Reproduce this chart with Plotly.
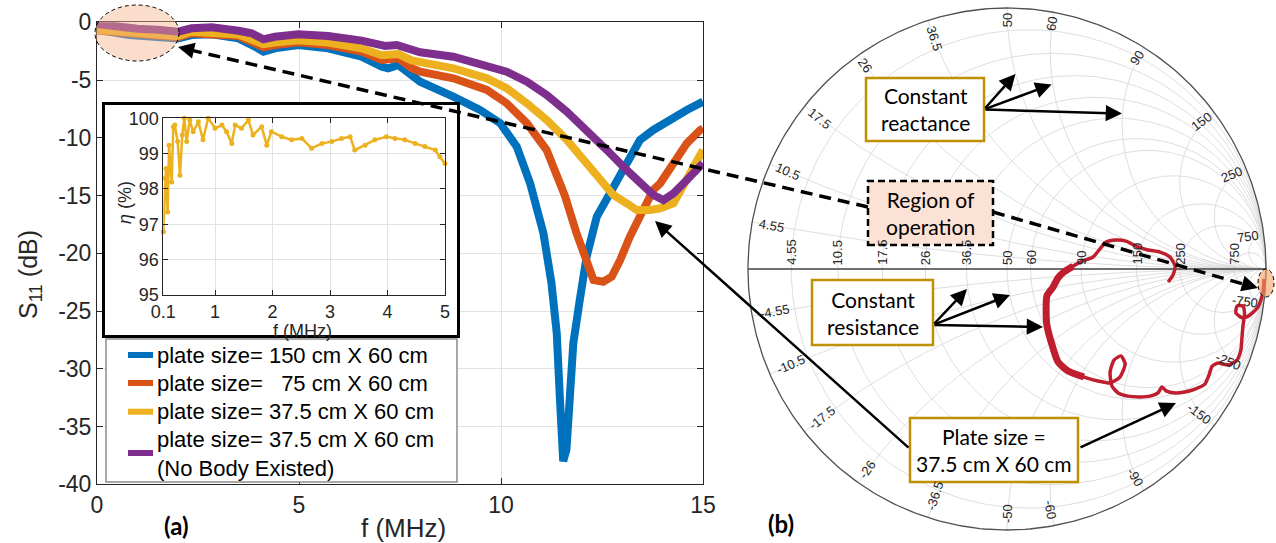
import numpy as np
import plotly.graph_objects as go

W, H = 1276, 543

# ---------------- S11 sweeps (f in MHz, S11 in dB) ----------------
f_150 = [0.0, 0.8, 2.0, 2.34, 2.84, 3.5, 3.91, 4.12, 4.4, 4.98, 5.72, 6.55, 7.05, 7.21, 7.46,
         7.79, 8.0, 8.82, 9.48, 9.98, 10.39, 10.72, 11.05, 11.25, 11.38, 11.46, 11.5, 11.54,
         11.62, 11.71, 11.79, 11.95, 12.12, 12.37, 12.7, 12.95, 13.28, 13.44, 13.77, 14.27,
         14.6, 15.0]
s11_150 = [-0.65, -1.1, -1.39, -1.1, -1.04, -1.39, -2.11, -2.54, -2.25, -1.97, -2.25, -2.98,
           -3.84, -3.98, -3.7, -4.71, -5.14, -6.44, -7.59, -8.74, -10.77, -13.94, -18.27,
           -22.6, -26.93, -32.7, -37.0, -38.0, -37.0, -32.7, -27.79, -24.04, -20.29, -16.83,
           -14.81, -13.37, -11.35, -10.19, -9.32, -8.17, -7.59, -6.87]

f_75 = [0.0, 0.8, 2.0, 2.34, 3.5, 3.91, 4.12, 4.4, 4.98, 5.72, 6.55, 7.05, 7.46, 7.79, 8.0,
        8.82, 9.65, 10.14, 10.64, 11.13, 11.58, 11.87, 12.12, 12.29, 12.53, 12.74, 12.95,
        13.19, 13.52, 13.77, 13.94, 14.27, 14.6, 14.93, 15.0]
s11_75 = [-0.7, -1.0, -1.28, -0.95, -1.19, -1.82, -2.17, -1.97, -1.73, -1.97, -2.54, -3.26,
          -3.12, -3.98, -4.27, -4.85, -5.86, -7.01, -8.74, -11.06, -15.0, -18.27, -20.87,
          -22.31, -22.46, -22.03, -20.58, -18.56, -16.25, -14.52, -13.94, -12.21, -10.48,
          -9.32, -9.2]

f_375 = [0.0, 0.8, 2.0, 2.34, 3.5, 3.91, 4.12, 4.4, 4.98, 5.72, 6.55, 7.05, 7.46, 7.79, 8.0,
         8.82, 9.65, 10.14, 10.64, 11.13, 11.63, 12.12, 12.45, 12.78, 13.11, 13.36, 13.69,
         13.94, 14.27, 14.6, 14.84, 15.0]
s11_375 = [-0.65, -0.85, -1.2, -0.82, -1.05, -1.6, -1.9, -1.75, -1.55, -1.75, -2.25, -2.85,
           -2.75, -3.3, -3.41, -3.98, -4.85, -5.71, -7.01, -8.46, -10.19, -12.21, -13.65,
           -14.95, -15.67, -16.25, -16.25, -16.1, -15.67, -13.65, -11.92, -11.06]

f_nobody = [0.0, 0.5, 1.0, 1.5, 2.01, 2.34, 2.84, 3.5, 3.83, 4.12, 4.4, 4.98, 5.72, 6.55,
            7.13, 7.42, 7.62, 8.0, 8.82, 9.65, 10.14, 10.64, 11.13, 11.63, 12.12, 12.62,
            13.11, 13.44, 13.77, 14.02, 14.27, 14.6, 14.93, 15.0]
s11_nobody = [-0.15, -0.4, -0.55, -0.65, -0.81, -0.52, -0.43, -0.73, -0.95, -1.47, -1.25,
              -1.04, -1.19, -1.59, -2.05, -1.97, -2.25, -2.6, -2.98, -3.7, -4.28, -5.14,
              -6.29, -7.74, -9.32, -11.06, -12.79, -13.94, -14.95, -15.39, -14.81, -13.65,
              -12.35, -12.2]

series_names = ["plate size= 150 cm X 60 cm",
                "plate size=\u00a0\u00a0\u00a075 cm X 60 cm",
                "plate size= 37.5 cm X 60 cm",
                "plate size= 37.5 cm X 60 cm<br>(No Body Existed)"]
series_colors = ["#0072BD", "#D95319", "#EDB120", "#7E2F8E"]

s11_ticks = [-40, -35, -30, -25, -20, -15, -10, -5, 0]
s11_ticktext = ["-40", "-35", "-30", "-25", "-20", "-15", "-10", "-5", "0"]
f_ticks = [0, 5, 10, 15]

# ---------------- efficiency (inset) ----------------
f_eta = [0.1, 0.13, 0.147, 0.176, 0.2, 0.246, 0.274, 0.30, 0.35, 0.39, 0.43, 0.465, 0.507,
         0.56, 0.62, 0.71, 0.79, 0.88, 1.0, 1.12, 1.2, 1.29, 1.35, 1.46, 1.58, 1.66, 1.81,
         1.9, 1.98, 2.16, 2.33, 2.51, 2.68, 2.86, 3.03, 3.2, 3.35, 3.43, 3.61, 3.78, 3.98,
         4.13, 4.3, 4.48, 4.65, 4.83, 4.91, 5.0]
eta = [96.79, 98.3, 98.58, 97.35, 99.24, 98.2, 99.76, 99.81, 99.34, 98.39, 99.53, 100.0,
       99.34, 99.95, 99.62, 99.9, 99.39, 100.0, 99.72, 99.81, 99.62, 99.29, 99.81, 99.72,
       99.95, 99.53, 99.76, 99.24, 99.62, 99.48, 99.39, 99.43, 99.15, 99.29, 99.34, 99.43,
       99.48, 99.1, 99.24, 99.39, 99.48, 99.43, 99.39, 99.29, 99.2, 99.1, 98.91, 98.72]
eta_xticks = [0.1, 1, 2, 3, 4, 5]
eta_yticks = [95, 96, 97, 98, 99, 100]

# ---------------- reflection coefficient locus (37.5 cm x 60 cm plate) ----------------
gamma_re = [0.992, 0.988, 0.969, 0.938, 0.911, 0.884, 0.888, 0.911, 0.917, 0.911, 0.907,
            0.903, 0.888, 0.853, 0.815, 0.792, 0.780, 0.764, 0.726, 0.687, 0.649, 0.614,
            0.598, 0.583, 0.552, 0.514, 0.467, 0.429, 0.405, 0.398, 0.413, 0.440, 0.456,
            0.436, 0.398, 0.351, 0.297, 0.236, 0.197, 0.174, 0.154, 0.151, 0.154, 0.178,
            0.197, 0.220, 0.255, 0.293, 0.332, 0.359, 0.382, 0.421, 0.459, 0.498, 0.544,
            0.591, 0.629, 0.649, 0.641, 0.622]
gamma_im = [-0.038, -0.092, -0.146, -0.176, -0.188, -0.169, -0.142, -0.142, -0.172, -0.218,
            -0.264, -0.310, -0.349, -0.368, -0.360, -0.372, -0.406, -0.441, -0.460, -0.471,
            -0.475, -0.467, -0.452, -0.475, -0.487, -0.490, -0.487, -0.475, -0.448, -0.395,
            -0.349, -0.333, -0.364, -0.414, -0.437, -0.429, -0.414, -0.391, -0.356, -0.291,
            -0.215, -0.157, -0.103, -0.069, -0.034, -0.011, 0.011, 0.031, 0.046, 0.077,
            0.103, 0.111, 0.107, 0.088, 0.073, 0.065, 0.046, 0.011, -0.023, -0.050]
noisy_start, noisy_stop = 36, 47   # jittery stretch of the sweep

# Smith chart grid values (ohms), reference impedance
z0 = 50.0
grid_ohm = [4.55, 10.5, 17.5, 26, 36.5, 50, 60, 90, 150, 250, 750]


def px_x(p):
    return p / W


def px_y(p):
    return 1 - p / H


TXT = "#262626"
GRID = "#e2e2e2"
SANS = "Liberation Sans"
HUMAN = "Lato"

fig = go.Figure()

# ---- main S11 plot ----
for fx, sy, col, nm in zip([f_150, f_75, f_375, f_nobody],
                           [s11_150, s11_75, s11_375, s11_nobody],
                           series_colors, series_names):
    fig.add_trace(go.Scatter(x=fx, y=sy, mode="lines", name=nm, showlegend=False,
                             line=dict(color=col, width=8), xaxis="x", yaxis="y",
                             hoverinfo="skip"))

# ---- opaque frame behind the inset ----
fig.add_trace(go.Scatter(x=[None], y=[None], xaxis="x2", yaxis="y2", showlegend=False,
                         hoverinfo="skip"))

# ---- inset efficiency ----
fig.add_trace(go.Scatter(x=f_eta, y=eta, mode="lines+markers", showlegend=False,
                         line=dict(color=series_colors[2], width=2.5),
                         marker=dict(color=series_colors[2], size=5),
                         cliponaxis=False, xaxis="x3", yaxis="y3", hoverinfo="skip"))

# ---- Smith chart grid ----
t = np.linspace(0, 2 * np.pi, 361)
rx, ry = [], []
for R in grid_ohm:
    r = R / z0
    c, rad = r / (1 + r), 1 / (1 + r)
    rx += list(c + rad * np.cos(t)) + [None]
    ry += list(rad * np.sin(t)) + [None]
rr = np.concatenate([[0.0], np.logspace(-3, 4, 700)])
for X in grid_ohm:
    for sgn in (1, -1):
        g = (rr + 1j * sgn * X / z0 - 1) / (rr + 1j * sgn * X / z0 + 1)
        rx += list(g.real) + [None]
        ry += list(g.imag) + [None]
fig.add_trace(go.Scatter(x=rx, y=ry, mode="lines", line=dict(color="#d6d6d6", width=0.8),
                         showlegend=False, xaxis="x4", yaxis="y4", hoverinfo="skip"))
fig.add_trace(go.Scatter(x=list(np.cos(t)), y=list(np.sin(t)), mode="lines",
                         line=dict(color="#505050", width=1.3), showlegend=False,
                         xaxis="x4", yaxis="y4", hoverinfo="skip"))
fig.add_trace(go.Scatter(x=[-1, 1], y=[0, 0], mode="lines",
                         line=dict(color="#404040", width=1.3), showlegend=False,
                         xaxis="x4", yaxis="y4", hoverinfo="skip"))

# ---- Smith chart locus ----
RED = "#BE1E2D"
fig.add_trace(go.Scatter(x=gamma_re, y=gamma_im, mode="lines",
                         line=dict(color=RED, width=3.5, shape="spline", smoothing=0.6),
                         showlegend=False, xaxis="x4", yaxis="y4", hoverinfo="skip"))
fig.add_trace(go.Scatter(x=gamma_re[noisy_start:noisy_stop], y=gamma_im[noisy_start:noisy_stop],
                         mode="lines", line=dict(color=RED, width=7, shape="spline", smoothing=0.6),
                         showlegend=False, xaxis="x4", yaxis="y4", hoverinfo="skip"))

annotations = []


def note(text, cx, cy, size, family=SANS, color=TXT, angle=0, xanchor="center", align="center"):
    return dict(x=px_x(cx), y=px_y(cy), xref="paper", yref="paper", text=text,
                textangle=angle, showarrow=False, xanchor=xanchor, yanchor="middle",
                align=align, font=dict(family=family, size=size, color=color))


# Smith labels: resistance values on the real axis
for R in grid_ohm:
    r = R / z0
    annotations.append(dict(x=(r - 1) / (r + 1), y=0, xref="x4", yref="y4", text=f"{R:g}",
                            textangle=-90, showarrow=False, xanchor="center", yanchor="bottom",
                            yshift=2, font=dict(family=SANS, size=13, color=TXT)))
# Smith labels: reactance values around the rim
for X in grid_ohm:
    for sgn in (1, -1):
        g = (1j * sgn * X / z0 - 1) / (1j * sgn * X / z0 + 1)
        th = np.degrees(np.angle(g))
        a = -th
        while a >= 90:
            a -= 180
        while a < -90:
            a += 180
        lab = f"{X:g}" if sgn > 0 else f"-{X:g}"
        d = (5 + 3.6 * len(lab)) / 260.0
        annotations.append(dict(x=g.real * (1 - d), y=g.imag * (1 - d), xref="x4", yref="y4",
                                text=lab, textangle=a, showarrow=False, xanchor="center",
                                yanchor="middle", font=dict(family=SANS, size=13, color=TXT)))

# axis titles and panel tags
annotations += [
    note("S<sub>11</sub> (dB)", 30, 275, 25, angle=-90),
    note("f (MHz)", 403, 528, 26),
    note("<i>η</i> (%)", 125, 203, 18, angle=-90),
    note("f (MHz)", 302, 331, 18),
    note("<b>(a)</b>", 176, 525, 24, family=HUMAN, color="black"),
    note("<b>(b)</b>", 781, 523, 24, family=HUMAN, color="black"),
]

# callout texts
for txt, cx, cy in [("Constant<br>reactance", 925, 109.5),
                    ("Region of<br>operation", 930.5, 213),
                    ("Constant<br>resistance", 872.5, 312.5),
                    ("Plate size =<br>37.5 cm X 60 cm", 994, 450)]:
    annotations.append(note(txt, cx, cy, 21, family=HUMAN, color="black"))


def arrow(tail, head, size=1.3):
    return dict(x=px_x(head[0]), y=px_y(head[1]), xref="paper", yref="paper",
                ax=tail[0] - head[0], ay=tail[1] - head[1], axref="pixel", ayref="pixel",
                text="", showarrow=True, arrowhead=2, arrowsize=size, arrowwidth=2.5,
                arrowcolor="black", standoff=0)


annotations += [
    arrow((984, 109.5), (1015.5, 74)), arrow((984, 109.5), (1051.6, 84.4)),
    arrow((984, 109.5), (1122, 113.6)),
    arrow((933, 325), (967, 289)), arrow((933, 325), (1010, 295)), arrow((933, 325), (1043, 327)),
    arrow((1079, 448), (1176, 403)),
    arrow((910, 449), (655, 221)),
    arrow((178 + 15.6, 47 + 3.6), (178, 47)),
    arrow((1258 - 15.4, 288 - 4.4), (1258, 288)),
]


def rect(x0, y0, x1, y1, line, fill="white", dash="solid", width=2.5):
    return dict(type="rect", xref="paper", yref="paper", x0=px_x(x0), x1=px_x(x1),
                y0=px_y(y1), y1=px_y(y0), line=dict(color=line, width=width, dash=dash),
                fillcolor=fill, layer="above")


GOLD = "#BF9000"
shapes = [
    dict(type="line", xref="paper", yref="paper", x0=px_x(868), y0=px_y(207), x1=px_x(186),
         y1=px_y(49), line=dict(color="black", width=3.5, dash="12px,7px"), layer="above"),
    dict(type="line", xref="paper", yref="paper", x0=px_x(993), y0=px_y(212), x1=px_x(1250),
         y1=px_y(286), line=dict(color="black", width=3.5, dash="12px,7px"), layer="above"),
    rect(866, 78, 984, 141, GOLD),
    rect(868, 181, 993, 245, "black", fill="#FBE2D5", dash="7px,4px"),
    rect(812, 280, 933, 345, GOLD),
    rect(910, 418, 1078, 482, GOLD),
    dict(type="circle", xref="paper", yref="paper", x0=px_x(95), x1=px_x(179), y0=px_y(61),
         y1=px_y(5), line=dict(color="black", width=1, dash="4px,3px"),
         fillcolor="rgba(245,180,140,0.45)", layer="above"),
    dict(type="circle", xref="paper", yref="paper", x0=px_x(1258), x1=px_x(1274), y0=px_y(297),
         y1=px_y(269), line=dict(color="black", width=1, dash="4px,3px"),
         fillcolor="rgba(245,160,100,0.6)", layer="above"),
    # legend box
    rect(106, 339, 457, 482, "#8c8c8c", width=1.5),
]

# legend entries: colour swatch + label
legend_rows = [(355, 355), (383, 383), (411.7, 411.7), (453, 454)]
for (sym_y, txt_y), col, nm in zip(legend_rows, series_colors, series_names):
    shapes.append(dict(type="line", xref="paper", yref="paper", x0=px_x(128), x1=px_x(153),
                       y0=px_y(sym_y), y1=px_y(sym_y), line=dict(color=col, width=6),
                       layer="above"))
    annotations.append(note(nm, 155, txt_y, 22, color="black", xanchor="left", align="left"))

main_ax = dict(showline=True, linecolor=TXT, linewidth=1, mirror="ticks", ticks="inside",
               ticklen=6, tickcolor=TXT, showgrid=True, gridcolor=GRID, gridwidth=1,
               zeroline=False, tickfont=dict(family=SANS, size=23, color=TXT))
inset_ax = dict(showline=True, linecolor=TXT, linewidth=1, mirror="ticks", ticks="inside",
                ticklen=5, tickcolor=TXT, showgrid=True, gridcolor=GRID, gridwidth=1,
                zeroline=False, tickfont=dict(family=SANS, size=18, color=TXT))
frame_ax = dict(showline=True, linecolor="black", linewidth=3, mirror=True, ticks="",
                showgrid=False, zeroline=False, showticklabels=False, range=[0, 1])
hidden_ax = dict(visible=False, showgrid=False, zeroline=False)

fig.update_layout(
    width=W, height=H, margin=dict(l=0, r=0, t=0, b=0),
    paper_bgcolor="white", plot_bgcolor="white", template="none",
    font=dict(family=SANS, color=TXT),
    xaxis=dict(main_ax, domain=[px_x(97), px_x(703)], range=[0, 15], tickvals=f_ticks,
               anchor="y"),
    yaxis=dict(main_ax, domain=[px_y(484.3), px_y(22.3)], range=[-40, 0], tickvals=s11_ticks,
               ticktext=s11_ticktext, anchor="x"),
    xaxis2=dict(frame_ax, domain=[px_x(105), px_x(457)], anchor="y2"),
    yaxis2=dict(frame_ax, domain=[px_y(335), px_y(105)], anchor="x2"),
    xaxis3=dict(inset_ax, domain=[px_x(163.3), px_x(445)], range=[0.1, 5],
                tickvals=eta_xticks, ticktext=[f"{v:g}" for v in eta_xticks], anchor="y3"),
    yaxis3=dict(inset_ax, domain=[px_y(295), px_y(118.3)], range=[95, 100],
                tickvals=eta_yticks, anchor="x3"),
    xaxis4=dict(hidden_ax, domain=[px_x(740.2), px_x(1273.8)], range=[-1.03, 1.03],
                anchor="y4"),
    yaxis4=dict(hidden_ax, domain=[px_y(536.5), px_y(1.5)], range=[-1.025, 1.025],
                anchor="x4"),
    showlegend=False,
    annotations=annotations,
    shapes=shapes,
)

fig.write_html("out.html")
